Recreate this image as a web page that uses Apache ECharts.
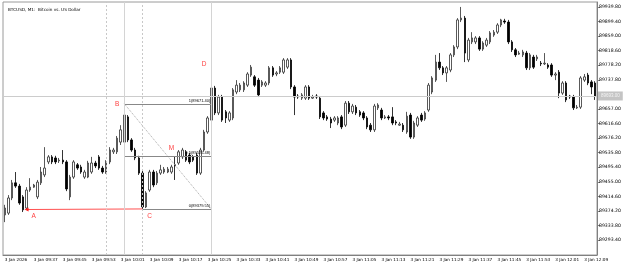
<!DOCTYPE html>
<html>
<head>
<meta charset="utf-8">
<title>BTCUSD, M1</title>
<script src="https://cdn.jsdelivr.net/npm/echarts@6/dist/echarts.min.js"></script>
<style>
  html, body { margin: 0; padding: 0; background: #fff; }
  #chart { width: 625px; height: 266px; }
</style>
</head>
<body>
<div id="chart"></div>
<script type="text/javascript">
// 1 minute candles, 3 Jan 09:29 .. 12:12
var opens = [89363,89368,89410,89452,89443,89413,89382,89432,89440,89413,
  89452,89474,89510,89524,89521,89513,89515,89510,89413,89468,
  89502,89496,89468,89468,89482,89507,89524,89493,89482,89510,
  89538,89538,89565,89565,89635,89571,89543,89521,89479,89385,
  89432,89482,89452,89479,89482,89482,89482,89502,89507,89524,
  89538,89529,89524,89529,89479,89543,89593,89626,89715,89646,
  89690,89649,89626,89632,89704,89710,89710,89723,89751,89746,
  89737,89723,89723,89729,89771,89754,89759,89759,89773,89793,
  89718,89693,89687,89687,89718,89687,89693,89687,89646,89635,
  89629,89626,89618,89635,89612,89673,89649,89662,89649,89646,
  89632,89612,89599,89660,89654,89632,89635,89635,89621,89612,
  89612,89593,89640,89579,89612,89640,89629,89654,89704,89737,
  89787,89771,89757,89765,89807,89829,89904,89909,89793,89843,
  89843,89854,89823,89834,89843,89862,89870,89890,89901,89898,
  89843,89821,89809,89807,89812,89771,89801,89796,89784,89782,
  89779,89779,89751,89759,89701,89729,89693,89690,89660,89662,
  89737,89751,89732,89729];
var closes = [89382,89410,89452,89443,89396,89377,89432,89440,89446,89454,
  89482,89493,89524,89510,89510,89515,89510,89435,89468,89510,
  89493,89482,89482,89507,89507,89499,89493,89482,89510,89543,
  89543,89576,89599,89640,89571,89543,89521,89479,89385,89424,
  89482,89446,89479,89488,89490,89490,89496,89499,89538,89543,
  89515,89510,89515,89479,89543,89593,89632,89715,89646,89690,
  89626,89632,89646,89710,89723,89723,89729,89754,89773,89723,
  89696,89732,89729,89771,89751,89757,89771,89793,89793,89718,
  89690,89690,89696,89718,89687,89690,89690,89635,89632,89629,
  89618,89632,89632,89607,89673,89649,89665,89646,89640,89632,
  89607,89599,89665,89668,89632,89635,89632,89618,89618,89615,
  89599,89637,89579,89618,89632,89626,89646,89723,89743,89787,
  89771,89757,89771,89807,89829,89904,89909,89812,89848,89854,
  89854,89823,89840,89848,89868,89870,89890,89904,89898,89843,
  89821,89807,89812,89815,89771,89807,89773,89801,89782,89784,
  89773,89751,89754,89701,89729,89682,89690,89660,89662,89743,
  89746,89729,89718,89693];
var lows = [89343,89363,89404,89438,89391,89371,89378,89427,89438,89407,
  89446,89468,89504,89504,89504,89507,89504,89429,89404,89463,
  89488,89477,89463,89465,89477,89493,89488,89477,89477,89504,
  89532,89532,89557,89560,89565,89538,89515,89474,89379.55,89382,
  89427,89440,89446,89474,89477,89479,89477,89460,89502,89518,
  89510,89504,89510,89474,89474,89538,89588,89621,89640,89640,
  89621,89618,89621,89626,89698,89704,89704,89718,89746,89718,
  89690,89718,89718,89723,89746,89748,89754,89754,89768,89712,
  89640,89685,89682,89682,89682,89685,89685,89629,89626,89624,
  89604,89621,89612,89601,89607,89643,89643,89640,89635,89626,
  89601,89593,89593,89654,89626,89629,89626,89612,89612,89610,
  89593,89588,89574,89574,89607,89621,89624,89649,89698,89732,
  89765,89751,89732,89759,89801,89823,89898,89787,89787,89837,
  89837,89818,89818,89829,89837,89857,89865,89884,89893,89837,
  89815,89801,89807,89801,89765,89765,89768,89790,89776,89779,
  89768,89746,89737,89687,89696,89676,89685,89654,89657,89657,
  89732,89723,89698,89682];
var highs = [89391,89418,89460,89482,89449,89418,89440,89465,89449,89460,
  89496,89551,89529,89529,89527,89521,89543,89515,89474,89515,
  89507,89502,89488,89513,89524,89513,89529,89499,89515,89551,
  89549,89582,89612,89671.40,89640,89576,89549,89527,89485,89429,
  89488,89488,89485,89502,89496,89496,89502,89524,89543,89549,
  89543,89535,89529,89535,89549,89599,89637,89798,89721,89696,
  89696,89654,89651,89715,89737,89729,89734,89759,89779,89751,
  89743,89737,89734,89776,89776,89762,89776,89798,89798,89798,
  89723,89698,89701,89723,89723,89696,89698,89693,89651,89640,
  89635,89637,89637,89640,89679,89679,89671,89668,89654,89651,
  89637,89618,89671,89673,89660,89640,89640,89662,89626,89621,
  89618,89649,89646,89624,89637,89646,89651,89729,89748,89807,
  89812,89776,89776,89812,89834,89909,89940,89915,89854,89870,
  89859,89859,89845,89854,89873,89876,89895,89907,89907,89904,
  89848,89826,89818,89821,89818,89812,89807,89807,89790,89812,
  89784,89784,89759,89765,89734,89734,89696,89696,89668,89748,
  89754,89757,89737,89734];

var tickLabels = ['3 Jan 2026','3 Jan 09:37','3 Jan 09:45','3 Jan 09:53','3 Jan 10:01',
  '3 Jan 10:09','3 Jan 10:17','3 Jan 10:25','3 Jan 10:33','3 Jan 10:41','3 Jan 10:49',
  '3 Jan 10:57','3 Jan 11:05','3 Jan 11:13','3 Jan 11:21','3 Jan 11:29','3 Jan 11:37',
  '3 Jan 11:45','3 Jan 11:53','3 Jan 12:01','3 Jan 12:09'];
var priceLabels = [89293.40,89333.80,89374.20,89414.60,89455.00,89495.40,89535.80,
  89576.20,89616.60,89657.00,89697.40,89737.80,89778.20,89818.60,89859.00,89899.40,89939.80];

// ABCD pattern and fibo levels (candle index, price)
var pointA = [6, 89378];
var pointB = [33, 89671.40];
var pointC = [38, 89379.55];
var fiboEnd = 57;
var fiboLevels = ['1', '0.5', '0'];
var fiboPrices = [89671.40, 89525.48, 89379.55];
var patternNames = ['A', 'B', 'C', 'D', 'M'];
var patternSpots = [[8, 89360], [31, 89671], [40, 89360], [55, 89782], [46, 89549]];
var cycleLines = [28, 38];     // dashed verticals
var solidLines = [33, 57];

var times = [];
for (var i = 0; i < opens.length; i++) {
  var m = 9 * 60 + 29 + i;
  var hh = Math.floor(m / 60), mm = m % 60;
  times.push((hh < 10 ? '0' : '') + hh + ':' + (mm < 10 ? '0' : '') + mm);
}
var candles = opens.map(function (o, i) { return [o, closes[i], lows[i], highs[i]]; });
var lastClose = closes[closes.length - 1];

var gray = '#a8a8a8';
var markLines = [
  { yAxis: lastClose, lineStyle: { color: '#cccccc', type: 'solid', width: 1 },
    label: { show: true, position: 'end', distance: 1, formatter: lastClose.toFixed(2),
      backgroundColor: '#c4c4c4', color: '#f4f4f4', fontSize: 4.5, padding: [2, 3] } },
  [{ coord: pointA, lineStyle: { color: '#ff5050', type: 'solid', width: 1 } }, { coord: pointC }],
  [{ coord: pointB, lineStyle: { color: gray, type: 'dotted', width: 1 } }, { coord: [fiboEnd, fiboPrices[2]] }],
  [{ coord: [pointB[0], fiboPrices[0]], lineStyle: { color: '#888', type: 'solid', width: 1 } }, { coord: [pointB[0], fiboPrices[1]] }]
];
fiboPrices.forEach(function (p, k) {
  var from = k === 2 ? pointC[0] : pointB[0];
  markLines.push([{ coord: [from, p], lineStyle: { color: '#888', type: 'solid', width: 1 } }, { coord: [fiboEnd, p] }]);
});
cycleLines.forEach(function (x) {
  markLines.push({ xAxis: x, lineStyle: { color: '#c8c8c8', type: [2, 2], width: 1 } });
});
solidLines.forEach(function (x) {
  markLines.push({ xAxis: x, lineStyle: { color: '#d4d4d4', type: 'solid', width: 1 } });
});

var markPoints = patternNames.map(function (n, k) {
  return { name: n, coord: patternSpots[k], symbolSize: 0,
    label: { show: true, formatter: n, color: '#ff4040', fontSize: 6.5 } };
});
fiboPrices.forEach(function (p, k) {
  markPoints.push({ name: fiboLevels[k], coord: [fiboEnd, p], symbolSize: 0,
    label: { show: true, position: 'left', distance: 1, offset: [0, -3],
      formatter: fiboLevels[k] + '(' + p.toFixed(2) + ')', color: '#000', fontSize: 4 } });
});
markPoints.push({ name: 'arrow', coord: pointA, symbol: 'triangle', symbolRotate: 90,
  symbolSize: [4, 4], itemStyle: { color: '#ff2020' }, label: { show: false } });

var chart = echarts.init(document.getElementById('chart'));
chart.setOption({
  animation: false,
  title: {
    text: 'BTCUSD, M1:  Bitcoin vs. US Dollar', left: 3, top: 3,
    textStyle: { fontSize: 4.2, fontWeight: 'normal', color: '#000', fontFamily: 'DejaVu Sans' }
  },
  grid: { left: 3, right: 28, top: 2, bottom: 11, show: true, borderColor: '#9a9a9a', borderWidth: 1 },
  xAxis: {
    type: 'category',
    data: times,
    boundaryGap: true,
    axisLine: { lineStyle: { color: '#808080' } },
    axisTick: { alignWithLabel: true, length: 4, interval: function (i) { return i % 8 === 0; },
      lineStyle: { color: '#808080' } },
    axisLabel: {
      interval: function (i) { return i % 8 === 0; },
      formatter: function (v, i) { return i % 8 === 0 ? tickLabels[i / 8] : ''; },
      align: 'left', margin: 3, fontSize: 4.2, color: '#000', fontFamily: 'DejaVu Sans'
    },
    splitLine: { show: false }
  },
  yAxis: {
    type: 'value',
    position: 'right',
    min: 89251.8,
    max: 89953.7,
    axisLine: { show: true, lineStyle: { color: '#808080' } },
    axisTick: { show: true, length: 3, customValues: priceLabels, lineStyle: { color: '#808080' } },
    axisLabel: { customValues: priceLabels, formatter: function (v) { return v.toFixed(2); },
      margin: 2, fontSize: 4.6, color: '#000', fontFamily: 'DejaVu Sans' },
    splitLine: { show: false }
  },
  series: [{
    name: 'BTCUSD',
    type: 'candlestick',
    data: candles,
    barWidth: 2,
    itemStyle: { color: '#ffffff', color0: '#000000', borderColor: '#303030', borderColor0: '#000000', borderWidth: 0.8 },
    markLine: { symbol: ['none', 'none'], silent: true, label: { show: false }, data: markLines },
    markPoint: { silent: true, data: markPoints }
  }]
});
</script>
</body>
</html>
